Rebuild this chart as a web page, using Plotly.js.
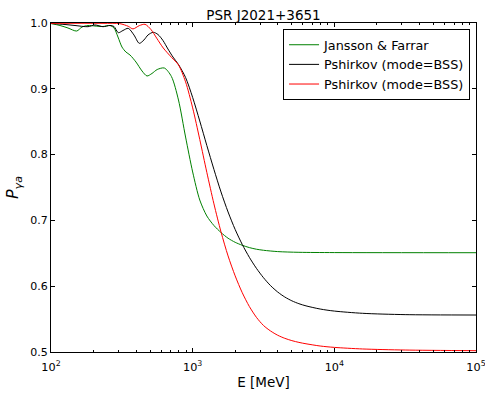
<!DOCTYPE html>
<html>
<head>
<meta charset="utf-8">
<script src="https://cdn.plot.ly/plotly-3.0.1.min.js"></script>
<style>html,body{margin:0;padding:0;background:#fff;}#chart{width:485px;height:396px;}</style>
</head>
<body>
<div id="chart"></div>
<script>
// Jansson & Farrar
var jfE = [100,115.8,131.8,151.8,165.5,182.4,204.4,232.8,260.9,278.5,297.1,317,338,361,398,439,476,516,562,631,708,794,891,1000,1122,1259,1413,1585,1778,1995,2239,2512,2818,3162,3981,5623,10000,100000];
var jfP = [0.9992,0.9962,0.9924,0.9878,0.9939,0.9962,0.9954,0.9947,0.9962,0.9924,0.9787,0.9635,0.9559,0.9514,0.9407,0.9271,0.9195,0.9233,0.9293,0.9316,0.9187,0.8830,0.8267,0.7736,0.7310,0.7067,0.6922,0.6816,0.6729,0.6667,0.6622,0.6587,0.6562,0.6546,0.6526,0.6515,0.6511,0.6509];

// Pshirkov (black)
var pbE = [100,125.6,147.7,182.4,204.4,232.8,260.9,278.5,298.5,322,351,385,420,453,484,527,569,617,669,726,794,891,1000,1122,1259,1413,1585,1778,1995,2239,2512,2818,3162,3548,3981,4467,5012,5623,6310,7943,10000,15849,31623,100000];
var pbP = [0.9992,0.9977,0.9962,0.9944,0.9970,0.9944,0.9962,0.9947,0.9853,0.9886,0.9919,0.9818,0.9691,0.9742,0.9818,0.9859,0.9825,0.9734,0.9605,0.9483,0.9369,0.9172,0.8868,0.8511,0.8138,0.7774,0.7432,0.7128,0.6862,0.6634,0.6439,0.6272,0.6129,0.6008,0.5912,0.5836,0.5778,0.5734,0.5701,0.5653,0.5622,0.5588,0.5568,0.5562];

// Pshirkov (red)
var prE = [100,232.8,306,351,379,420,461,508,557,620,708,794,891,1000,1122,1259,1413,1585,1778,1995,2239,2512,2818,3162,3548,3981,4467,5012,5623,6310,7943,10000,15849,31623,100000];
var prP = [0.9995,0.9995,0.9990,0.9950,0.9910,0.9960,0.9980,0.9900,0.9770,0.9620,0.9479,0.9363,0.9105,0.8710,0.8231,0.7729,0.7251,0.6825,0.6460,0.6157,0.5901,0.5692,0.5527,0.5403,0.5319,0.5255,0.5208,0.5173,0.5146,0.5125,0.5091,0.5070,0.5046,0.5030,0.5020];

var seriesNames = ['Jansson &amp; Farrar','Pshirkov (mode=BSS)','Pshirkov (mode=BSS)'];
var titleText = 'PSR J2021+3651';
var xTitle = 'E [MeV]';
var yTitle = '<i>P</i><sub><i>γa</i></sub>';

var FONT = 'DejaVu Sans, Bitstream Vera Sans, sans-serif';

function tr(x, y, name, color) {
  return {x: x, y: y, name: name, type: 'scatter', mode: 'lines',
          line: {color: color, width: 1, shape: 'spline', smoothing: 0.8}};
}

var data = [
  tr(jfE, jfP, seriesNames[0], '#008000'),
  tr(pbE, pbP, seriesNames[1], '#000000'),
  tr(prE, prP, seriesNames[2], '#ff0000')
];

var axisCommon = {
  showline: true, linecolor: '#000', linewidth: 1, mirror: 'ticks',
  ticks: 'inside', ticklen: 4, tickwidth: 1, tickcolor: '#000',
  showgrid: false, zeroline: false
};

var layout = {
  width: 485, height: 396,
  margin: {l: 51, r: 9, t: 23, b: 44, pad: 0},
  paper_bgcolor: '#fff', plot_bgcolor: '#fff',
  font: {family: FONT, color: '#000', size: 12},
  title: {text: titleText, font: {size: 13.5, family: FONT, color: '#000'},
          x: 0.5, xref: 'paper', xanchor: 'center', y: 1, yref: 'paper', yanchor: 'bottom', pad: {b: 3}},
  showlegend: true,
  legend: {x: 0.986, xanchor: 'right', y: 0.982, yanchor: 'top',
           bordercolor: '#000', borderwidth: 1, bgcolor: '#fff',
           font: {size: 12.8, family: FONT, color: '#000'},
           itemwidth: 30, tracegroupgap: 0},
  xaxis: Object.assign({}, axisCommon, {
    type: 'log', range: [2, 5], dtick: 1, exponentformat: 'power',
    ticklabeloverflow: 'allow', ticklabelstandoff: 5,
    tickfont: {size: 9, family: FONT},
    minor: {ticks: 'inside', ticklen: 2, tickcolor: '#000', dtick: 'D1', showgrid: false},
    title: {text: xTitle, font: {size: 13.5, family: FONT}, standoff: 4}
  }),
  yaxis: Object.assign({}, axisCommon, {
    range: [0.5, 1.0], dtick: 0.1, tickformat: '.1f',
    tickfont: {size: 11, family: FONT},
    title: {text: yTitle, font: {size: 16, family: FONT}, standoff: 7}
  })
};

Plotly.newPlot('chart', data, layout, {displayModeBar: false, staticPlot: true});
</script>
</body>
</html>
